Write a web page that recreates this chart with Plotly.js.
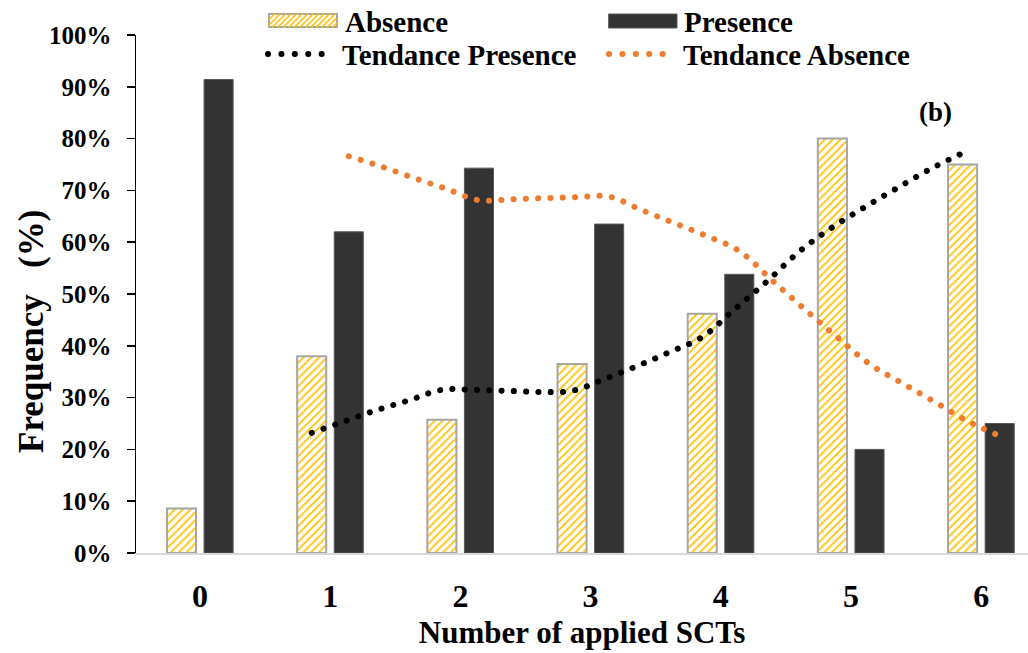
<!DOCTYPE html>
<html>
<head>
<meta charset="utf-8">
<script src="https://cdn.plot.ly/plotly-3.0.1.min.js"></script>
<style>
html,body{margin:0;padding:0;background:#fff;}
#chart{width:1028px;height:653px;}
.scatterlayer .js-line, .shapelayer path { stroke-linecap: round; }
</style>
</head>
<body>
<div id="chart"></div>
<script>
// ---- data ----
const categories = ["0", "1", "2", "3", "4", "5", "6"];
const categoryPos = [0, 1, 2, 3, 4, 5, 6];
const absence = [8.6, 38.0, 25.7, 36.5, 46.2, 80.0, 75.0];
const presence = [91.4, 62.0, 74.3, 63.5, 53.8, 20.0, 25.0];

// trend curves at these category positions
const trendPos = [1, 1.25, 1.5, 1.75, 2, 2.25, 2.5, 2.75, 3, 3.25, 3.5, 3.75, 4, 4.25, 4.5, 4.75, 5, 5.25, 5.5, 5.75, 6];
const trendPresence = [23.2, 25.4, 27.6, 29.5, 31.5, 31.5, 31.3, 31.1, 31.3, 33.6, 36.1, 38.8, 41.7, 47.1, 52.5, 58.3, 62.9, 66.8, 70.5, 74.1, 77.2];
const trendAbsence = [76.6, 74.6, 72.4, 70.3, 68.1, 68.3, 68.5, 68.7, 68.8, 66.2, 63.7, 61.2, 58.3, 52.7, 47.1, 41.7, 36.5, 32.8, 29.2, 25.5, 22.6];

const yTicks = [0, 10, 20, 30, 40, 50, 60, 70, 80, 90, 100];
const yTickText = yTicks.map(v => v + "%");
const seriesNames = ["Absence", "Presence", "Tendance Presence", "Tendance Absence"];

// ---- style / geometry ----
const serif = "Liberation Serif, Times New Roman, serif";
const W = 1028, H = 653;
const M = {l: 136, r: 0, t: 35, b: 100};
const PW = W - M.l - M.r, PH = H - M.t - M.b;
const px = x => (x - M.l) / PW;          // pixel -> paper x
const py = y => (H - M.b - y) / PH;      // pixel -> paper y
const barOffset = 0.142;
const hatchColor = "#FFC000", barEdge = "#A6A6A6", presColor = "#333333";
const dotDash = "0.1px,12.2px";

const traces = [
  {
    type: "bar", name: seriesNames[0], x: categoryPos, y: absence,
    marker: {
      color: "#ffffff",
      pattern: {shape: "/", fgcolor: hatchColor, bgcolor: "#ffffff", size: 5.5, solidity: 0.32},
      line: {color: barEdge, width: 2}
    },
    hoverinfo: "skip"
  },
  {
    type: "bar", name: seriesNames[1], x: categoryPos, y: presence,
    marker: {color: presColor, line: {color: "#595959", width: 1}},
    hoverinfo: "skip"
  },
  {
    type: "scatter", mode: "lines", name: seriesNames[2],
    x: trendPos.map(v => v - barOffset), y: trendPresence,
    line: {color: "#000000", width: 6, dash: dotDash, shape: "spline"},
    hoverinfo: "skip"
  },
  {
    type: "scatter", mode: "lines", name: seriesNames[3],
    x: trendPos.map(v => v + barOffset), y: trendAbsence,
    line: {color: "#ED7D31", width: 6, dash: dotDash, shape: "spline"},
    hoverinfo: "skip"
  }
];

// ---- hand-drawn legend (wide swatches as in the original) ----
const shapes = [];
const annotations = [];
function legendText(text, x, y) {
  annotations.push({text: text, xref: "paper", yref: "paper", x: px(x), y: py(y),
    xanchor: "left", yanchor: "middle", showarrow: false,
    font: {family: serif, size: 29, weight: "bold", color: "#000"}});
}
// Absence swatch: hatched rectangle
(function () {
  const x0 = 269, x1 = 337, y0 = 14, y1 = 27;
  let d = "";
  for (let s = x0 - (y1 - y0); s < x1; s += 5.5) {
    let ax = s, ay = y1, bx = s + (y1 - y0), by = y0;
    if (ax < x0) { ay = y1 - (x0 - ax); ax = x0; }
    if (bx > x1) { by = y0 + (bx - x1); bx = x1; }
    if (bx - ax < 0.5) continue;
    d += `M${px(ax)},${py(ay)}L${px(bx)},${py(by)}`;
  }
  shapes.push({type: "rect", xref: "paper", yref: "paper", x0: px(x0), x1: px(x1), y0: py(y1), y1: py(y0),
    fillcolor: "#ffffff", line: {color: barEdge, width: 2}});
  shapes.push({type: "path", xref: "paper", yref: "paper", path: d,
    line: {color: hatchColor, width: 1.6, dash: "3px,1.5px"}});
})();
legendText(seriesNames[0], 343, 22);
// Presence swatch
shapes.push({type: "rect", xref: "paper", yref: "paper", x0: px(609), x1: px(677), y0: py(28), y1: py(14),
  fillcolor: presColor, line: {color: "#595959", width: 1}});
legendText(seriesNames[1], 682, 22);
// trend swatches
shapes.push({type: "line", xref: "paper", yref: "paper", x0: px(268), x1: px(335), y0: py(54), y1: py(54),
  line: {color: "#000000", width: 6, dash: "0.1px,13.3px"}});
legendText(seriesNames[2], 340, 55);
shapes.push({type: "line", xref: "paper", yref: "paper", x0: px(609), x1: px(676), y0: py(54), y1: py(54),
  line: {color: "#ED7D31", width: 6, dash: "0.1px,13.3px"}});
legendText(seriesNames[3], 681, 55);

// panel tag and y-axis title
annotations.push({text: "(b)", xref: "paper", yref: "paper", x: px(935), y: py(112), xanchor: "center", yanchor: "middle",
  showarrow: false, font: {family: serif, size: 27, weight: "bold", color: "#000"}});
annotations.push({text: "Frequency\u00A0\u00A0\u00A0(%)", xref: "paper", yref: "paper", x: px(31), y: py(332),
  xanchor: "center", yanchor: "middle", textangle: -90, showarrow: false,
  font: {family: serif, size: 35, weight: "bold", color: "#000"}});

const layout = {
  width: W, height: H,
  margin: M,
  paper_bgcolor: "#ffffff", plot_bgcolor: "#ffffff",
  barmode: "group", bargap: 0.43, bargroupgap: 0.216,
  font: {family: serif, color: "#000000"},
  showlegend: false,
  xaxis: {
    range: [-0.492, 6.36], tickvals: categoryPos, ticktext: categories,
    showgrid: false, zeroline: false,
    showline: true, linecolor: "#D9D9D9", linewidth: 2,
    ticks: "outside", ticklen: 14, tickcolor: "rgba(0,0,0,0)",
    tickfont: {family: serif, size: 32, weight: "bold", color: "#000"},
    title: {text: "Number of applied SCTs", font: {family: serif, size: 31, weight: "bold", color: "#000"}, standoff: 8}
  },
  yaxis: {
    range: [0, 100], tickvals: yTicks, ticktext: yTickText,
    showgrid: false, zeroline: false,
    showline: true, linecolor: "#000000", linewidth: 1.5,
    ticks: "outside", ticklen: 8, tickcolor: "#000", tickwidth: 1.5,
    ticklabelstandoff: 10,
    tickfont: {family: serif, size: 25, weight: "bold", color: "#000"}
  },
  shapes: shapes,
  annotations: annotations
};

Plotly.newPlot("chart", traces, layout, {displayModeBar: false, staticPlot: true});
</script>
</body>
</html>
